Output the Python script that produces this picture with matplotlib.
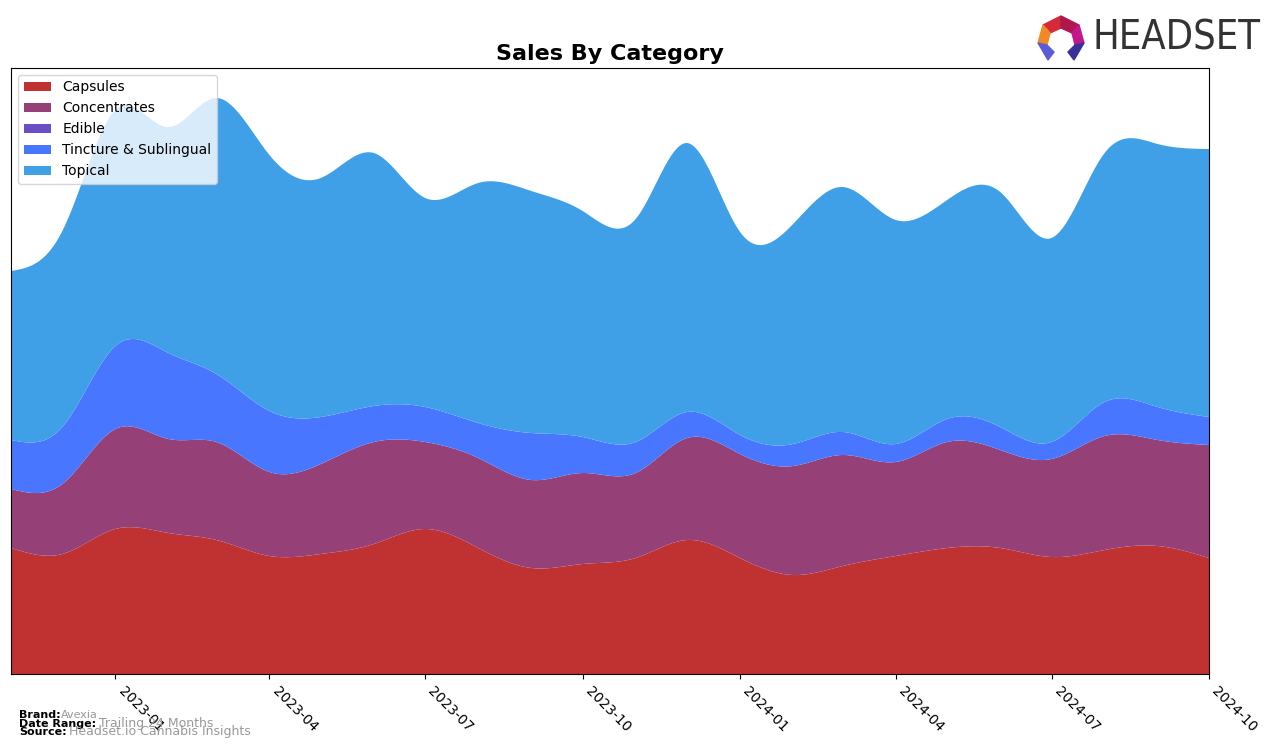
import numpy as np
import matplotlib
matplotlib.use('Agg')
import matplotlib.pyplot as plt
import matplotlib.dates as mdates
import pandas as pd
from matplotlib.patches import Polygon

# ---- data (monthly, arbitrary units) ----
months = pd.date_range('2022-11-01', '2024-10-01', freq='MS')
categories = ['Capsules', 'Concentrates', 'Edible', 'Tincture & Sublingual', 'Topical']
capsules = [126, 120, 145, 141, 134, 118, 120, 130, 145, 126, 106, 110,
            116, 134, 116, 99, 108, 118, 126, 126, 117, 124, 128, 116]
concentrates = [59, 70, 100, 94, 98, 84, 90, 102, 87, 90, 88, 91,
                85, 102, 104, 109, 111, 94, 106, 98, 98, 114, 106, 113]
edible = [0] * 24
tincture = [49, 57, 83, 86, 68, 61, 47, 36, 35, 35, 47, 36,
            31, 26, 19, 22, 23, 18, 23, 23, 17, 34, 33, 28]
topical = [169, 196, 236, 226, 276, 256, 239, 253, 209, 240, 242, 226,
           223, 269, 203, 220, 245, 224, 219, 235, 204, 249, 263, 268]
colors = ['#c03232', '#954077', '#6a4fc4', '#4876ff', '#3fa0e8']
xtick_labels = ['2023-01', '2023-04', '2023-07', '2023-10',
                '2024-01', '2024-04', '2024-07', '2024-10']


def natural_spline(x, y, xs):
    x = np.asarray(x, float); y = np.asarray(y, float)
    n = len(x)
    h = np.diff(x)
    A = np.zeros((n, n)); b = np.zeros(n)
    A[0, 0] = 1; A[-1, -1] = 1
    for i in range(1, n - 1):
        A[i, i - 1] = h[i - 1]
        A[i, i] = 2 * (h[i - 1] + h[i])
        A[i, i + 1] = h[i]
        b[i] = 6 * ((y[i + 1] - y[i]) / h[i] - (y[i] - y[i - 1]) / h[i - 1])
    M = np.linalg.solve(A, b)
    idx = np.clip(np.searchsorted(x, xs) - 1, 0, n - 2)
    x0 = x[idx]; x1 = x[idx + 1]; hh = x1 - x0
    t0 = x1 - xs; t1 = xs - x0
    return (M[idx] * t0 ** 3 / (6 * hh) + M[idx + 1] * t1 ** 3 / (6 * hh)
            + (y[idx] / hh - M[idx] * hh / 6) * t0
            + (y[idx + 1] / hh - M[idx + 1] * hh / 6) * t1)


xnum = mdates.date2num(months)
xs = np.linspace(xnum[0], xnum[-1], 600)
series = [capsules, concentrates, edible, tincture, topical]
smooth = [np.clip(natural_spline(xnum, s, xs), 0, None) for s in series]

fig = plt.figure(figsize=(12.76, 7.48), dpi=100)
ax = fig.add_axes([11 / 1276, 74 / 748, 1198 / 1276, 606 / 748])
ax.stackplot(xs, *smooth, labels=categories, colors=colors)
ax.set_xlim(xnum[0], xnum[-1])
ax.set_ylim(0, 606)
ax.set_yticks([])
ticks = mdates.date2num(pd.to_datetime([l + '-01' for l in xtick_labels]))
ax.set_xticks(ticks)
ax.set_xticklabels(xtick_labels, rotation=-45, ha='left', fontsize=10)
ax.set_title('Sales By Category', fontsize=16, fontweight='bold', pad=6)
ax.legend(loc='upper left', fontsize=10)

# footer
fig.text(19 / 1276, 1 - 718 / 748, 'Brand:', fontsize=8, fontweight='bold')
fig.text(61 / 1276, 1 - 718 / 748, 'Avexia', fontsize=8, color='#999999')
fig.text(19 / 1276, 1 - 727 / 748, 'Date Range:', fontsize=8, fontweight='bold')
fig.text(99 / 1276, 1 - 727 / 748, 'Trailing 24 Months', fontsize=9, color='#999999')
fig.text(19 / 1276, 1 - 735 / 748, 'Source:', fontsize=8, fontweight='bold')
fig.text(69 / 1276, 1 - 735 / 748, 'Headset.io Cannabis Insights', fontsize=9, color='#999999')

# logo
logo_txt = fig.text(1092 / 1276, 1 - 38 / 748, 'HEADSET', fontsize=34, color='#333333',
                    va='center', ha='left', family='DejaVu Sans', stretch='condensed')
renderer = fig.canvas.get_renderer()
w = logo_txt.get_window_extent(renderer).width
logo_txt.set_fontsize(34 * 168.0 / w)

W, H = 1276, 748
def P(pts):
    return [(px / W, 1 - py / H) for px, py in pts]
logo = [
    ([(1043, 25), (1061, 16), (1061, 28), (1050, 33)], '#d42a3a'),
    ([(1061, 16), (1079, 25), (1072, 33), (1061, 28)], '#b0174f'),
    ([(1079, 25), (1084, 43), (1075, 45), (1072, 33)], '#c2178a'),
    ([(1043, 25), (1050, 33), (1047, 45), (1038, 43)], '#f08a24'),
    ([(1038, 43), (1047, 45), (1054, 52), (1048, 60)], '#5b5bd6'),
    ([(1084, 43), (1075, 45), (1068, 52), (1074, 60)], '#3b2f9a'),
]
for pts, c in logo:
    fig.patches.append(Polygon(P(pts), closed=True, color=c, transform=fig.transFigure))

fig.savefig('out.png', dpi=100)
